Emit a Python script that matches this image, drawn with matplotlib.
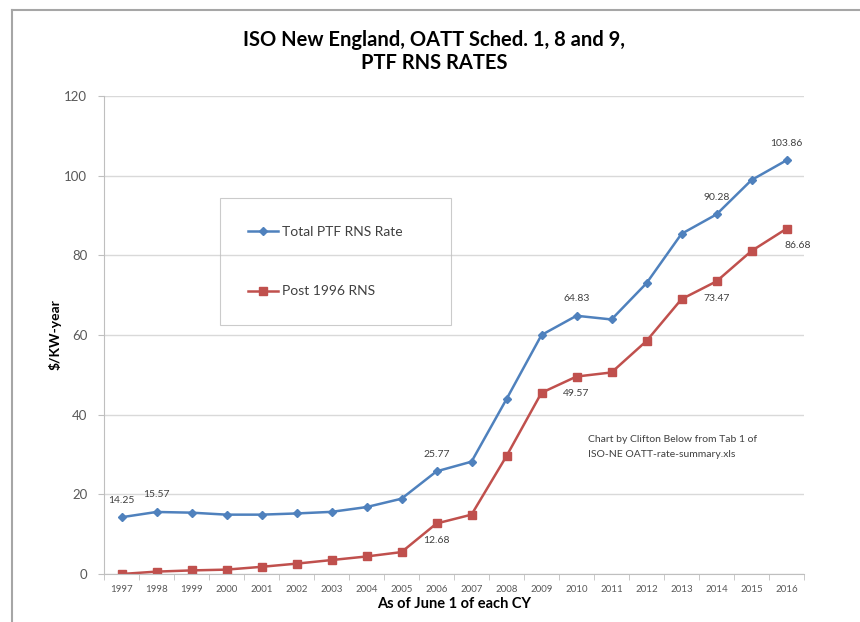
import matplotlib.pyplot as plt
import numpy as np
from matplotlib.lines import Line2D

plt.rcParams["font.family"] = ["Lato", "DejaVu Sans"]

years = [str(y) for y in range(1997, 2017)]
total_ptf = [14.25, 15.57, 15.4, 14.9, 14.9, 15.2, 15.6, 16.8, 18.9, 25.77,
             28.2, 43.9, 60.0, 64.83, 63.9, 73.0, 85.4, 90.28, 98.9, 103.86]
post_1996 = [0.0, 0.6, 0.9, 1.1, 1.8, 2.6, 3.5, 4.4, 5.5, 12.68,
             14.9, 29.6, 45.5, 49.57, 50.6, 58.5, 69.0, 73.47, 81.1, 86.68]

# which points get a value label
total_labels = {0: "14.25", 1: "15.57", 9: "25.77", 13: "64.83", 17: "90.28", 19: "103.86"}
post_labels = {9: "12.68", 13: "49.57", 17: "73.47", 19: "86.68"}

blue = "#4F81BD"
red = "#C0504D"
grey_txt = "#404040"

fig = plt.figure(figsize=(8.6, 6.22), dpi=100)
ax = fig.add_axes([104/860, 1-574/622, 700/860, 478/622])

x = np.arange(len(years))
ax.plot(x, total_ptf, color=blue, lw=1.8, marker="D", ms=4.5, label="Total PTF RNS Rate")
ax.plot(x, post_1996, color=red, lw=1.8, marker="s", ms=6, label="Post 1996 RNS")

for i, s in total_labels.items():
    ax.annotate(s, (x[i], total_ptf[i]), xytext=(0, 9), textcoords="offset points",
                ha="center", va="bottom", fontsize=7.5, color=grey_txt)
for i, s in post_labels.items():
    dx = 8 if i == 19 else 0
    ax.annotate(s, (x[i], post_1996[i]), xytext=(dx, -9), textcoords="offset points",
                ha="center", va="top", fontsize=7.5, color=grey_txt)

ax.set_xlim(-0.5, len(years) - 0.5)
ax.set_ylim(0, 120)
ax.set_yticks(range(0, 121, 20))
ax.set_xticks(x)
ax.set_xticklabels(years, fontsize=7, color="#595959")
ax.set_xticks(np.arange(-0.5, len(years), 1), minor=True)
ax.tick_params(axis="x", which="major", length=0, pad=8)
ax.tick_params(axis="x", which="minor", length=4, color="#bfbfbf")
ax.tick_params(axis="y", length=4, color="#bfbfbf", labelsize=9.5, labelcolor="#595959", pad=8)
ax.yaxis.grid(True, color="#d9d9d9", lw=1)
ax.set_axisbelow(True)
for sp in ["top", "right"]:
    ax.spines[sp].set_visible(False)
ax.spines["left"].set_color("#bfbfbf")
ax.spines["bottom"].set_color("#bfbfbf")

ax.set_xlabel("As of June 1 of each CY", fontsize=10.5, fontweight="bold", labelpad=2)
ax.set_ylabel("$/KW-year", fontsize=10, fontweight="bold", labelpad=2)

fig.text(0.505, 1-40/622, "ISO New England, OATT Sched. 1, 8 and 9,", ha="center", va="center",
         fontsize=14.5, fontweight="bold")
fig.text(0.505, 1-63/622, "PTF RNS RATES", ha="center", va="center",
         fontsize=14.5, fontweight="bold")

ax.text(0.691, 0.29, "Chart by Clifton Below from Tab 1 of\nISO-NE OATT-rate-summary.xls",
        transform=ax.transAxes, fontsize=7.5, color=grey_txt, va="top", ha="left", linespacing=1.8)

leg = fig.legend(loc="upper left", bbox_to_anchor=(220/860, 1-199/622, 231/860, 0.001),
                 mode="expand", fontsize=10, labelspacing=3.4, borderpad=2.0,
                 handlelength=2.2, handletextpad=0.3, borderaxespad=0, fancybox=False,
                 facecolor="none", edgecolor="#bfbfbf")
leg.get_frame().set_linewidth(0.8)
for t in leg.get_texts():
    t.set_color(grey_txt)

# outer chart border (left and top edges visible)
fig.add_artist(Line2D([12/860, 12/860], [0, 1-10/622], color="#a6a6a6", lw=1.5))
fig.add_artist(Line2D([12/860, 1], [1-10/622, 1-10/622], color="#a6a6a6", lw=1.5))

fig.savefig("out.png", dpi=100)
